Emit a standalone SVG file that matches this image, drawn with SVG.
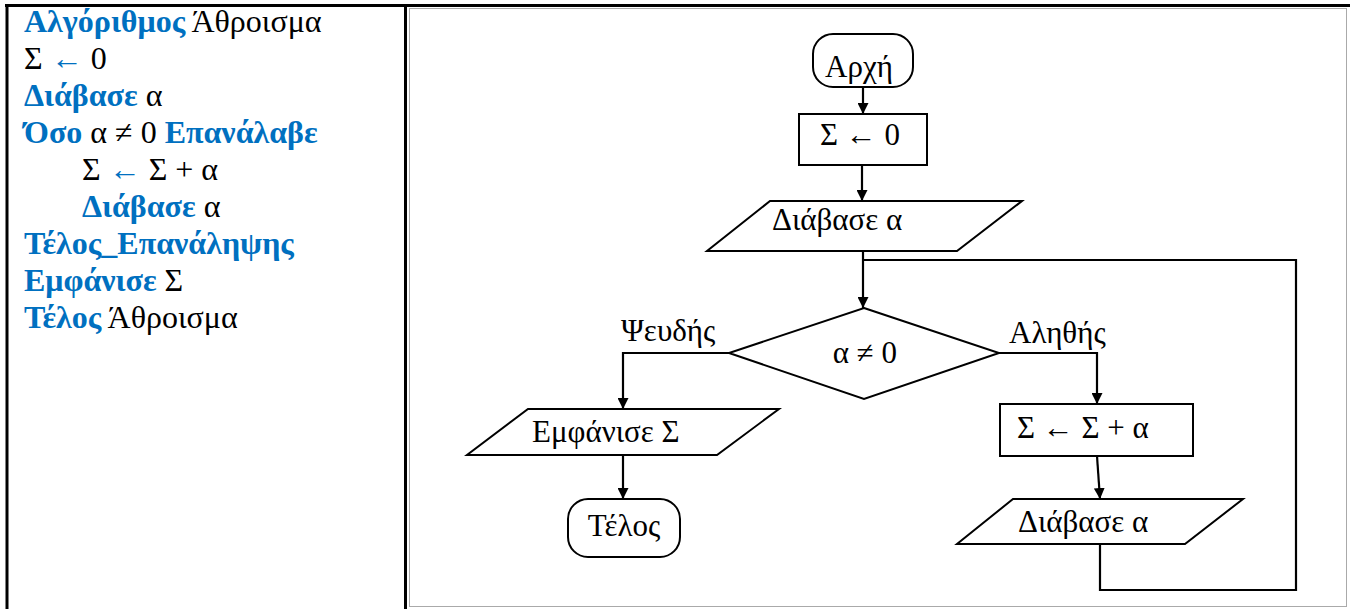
<svg xmlns="http://www.w3.org/2000/svg" width="1350" height="609" viewBox="0 0 1350 609">
<defs>
<style>
.t{font-family:"Liberation Serif","DejaVu Serif",serif;font-size:32px;fill:#000}
.k{font-weight:bold;fill:#0070C0}
.b{fill:#0070C0}
.f{font-family:"Liberation Serif","DejaVu Serif",serif;font-size:31px;fill:#000}
.s{fill:#fff;stroke:#000;stroke-width:2}
.c{fill:none;stroke:#000;stroke-width:2.2}
.dot{fill:none;stroke:#555;stroke-width:1;stroke-dasharray:1 1}
</style>
<marker id="ah" viewBox="0 0 10 10" refX="10" refY="5" markerWidth="5" markerHeight="5" orient="auto" markerUnits="strokeWidth">
<path d="M0,0 L10,5 L0,10 z" fill="#000"/>
</marker>
</defs>
<rect width="1350" height="609" fill="#fff"/>
<g id="table">
<line x1="5" y1="5.5" x2="1350" y2="5.5" stroke="#000" stroke-width="3"/>
<line x1="7" y1="4" x2="7" y2="609" stroke="#000" stroke-width="3"/>
<line x1="405.5" y1="4" x2="405.5" y2="609" stroke="#000" stroke-width="3"/>
<path class="dot" d="M409.5,8.5 H1346.5 V606.5 H409.5 Z"/>
</g>
<g id="pseudocode" class="t">
<text x="24" y="32"><tspan class="k">Αλγόριθμος</tspan> Άθροισμα</text>
<text x="24" y="69">Σ <tspan class="b">←</tspan> 0</text>
<text x="24" y="106"><tspan class="k">Διάβασε</tspan> α</text>
<text x="24" y="143"><tspan class="k">Όσο</tspan> α ≠ 0 <tspan class="k">Επανάλαβε</tspan></text>
<text x="82" y="180">Σ <tspan class="b">←</tspan> Σ + α</text>
<text x="82" y="217"><tspan class="k">Διάβασε</tspan> α</text>
<text x="24" y="254" class="k">Τέλος_Επανάληψης</text>
<text x="24" y="291"><tspan class="k">Εμφάνισε</tspan> Σ</text>
<text x="24" y="328"><tspan class="k">Τέλος</tspan> Άθροισμα</text>
</g>
<g id="connectors">
<line class="c" x1="863" y1="87" x2="863" y2="114" marker-end="url(#ah)"/>
<line class="c" x1="862" y1="165" x2="862" y2="201" marker-end="url(#ah)"/>
<line class="c" x1="863" y1="251" x2="863" y2="308" marker-end="url(#ah)"/>
<polyline class="c" points="1100,544 1100,590 1296,590 1296,260 863,260"/>
<polyline class="c" points="999,353 1097,353 1097,404" marker-end="url(#ah)"/>
<polyline class="c" points="729,353 623,353 623,409" marker-end="url(#ah)"/>
<line class="c" x1="1097" y1="456" x2="1100" y2="499" marker-end="url(#ah)"/>
<line class="c" x1="623" y1="455" x2="623" y2="499" marker-end="url(#ah)"/>
<text class="f" x="621" y="341">Ψευδής</text>
<text class="f" x="1009" y="343">Αληθής</text>
</g>
<g id="start">
<rect class="s" x="813" y="34" width="100" height="53" rx="20"/>
<text class="f" x="859" y="77" text-anchor="middle">Αρχή</text>
</g>
<g id="init">
<rect class="s" x="799" y="114" width="128" height="51"/>
<text class="f" x="860" y="145" text-anchor="middle">Σ ← 0</text>
</g>
<g id="read1">
<polygon class="s" points="770,201 1022,201 957,251 707,251"/>
<text class="f" x="772" y="230">Διάβασε α</text>
</g>
<g id="cond">
<polygon class="s" points="864,308 999,353 864,399 729,353"/>
<text class="f" x="865" y="363" text-anchor="middle">α ≠ 0</text>
</g>
<g id="print">
<polygon class="s" points="528,409 779,409 717,455 467,455"/>
<text class="f" x="532" y="442">Εμφάνισε Σ</text>
</g>
<g id="end">
<rect class="s" x="568" y="499" width="112" height="58" rx="20"/>
<text class="f" x="624" y="536" text-anchor="middle">Τέλος</text>
</g>
<g id="add">
<rect class="s" x="1000" y="404" width="193" height="52"/>
<text class="f" x="1017" y="438">Σ ← Σ + α</text>
</g>
<g id="read2">
<polygon class="s" points="1013,499 1243,499 1185,544 957,544"/>
<text class="f" x="1018" y="532">Διάβασε α</text>
</g>
</svg>
